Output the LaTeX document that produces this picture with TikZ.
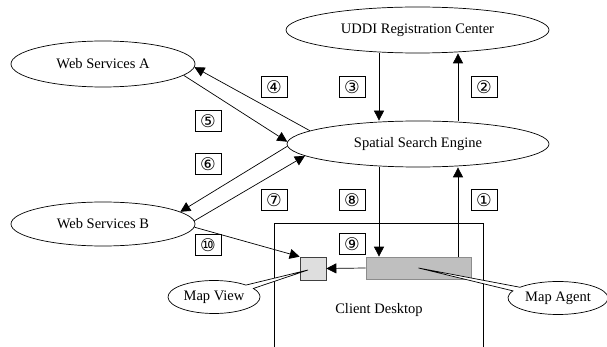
\documentclass[tikz,border=0pt]{standalone}
\usepackage{fontspec}
\setmainfont{Liberation Serif}
\newfontfamily\circfont{DejaVu Sans}
\usetikzlibrary{shapes.geometric,shapes.callouts,arrows.meta,calc}

\begin{document}
\begin{tikzpicture}[x=1pt, y=-1pt, line width=0.7pt,
    font=\fontsize{14.5}{16}\selectfont,
    service/.style={ellipse, draw, inner sep=0pt, minimum width=#1, minimum height=46},
    numbox/.style={draw, rectangle, inner sep=0pt, minimum width=26, minimum height=21,
        font=\circfont\fontsize{17.5}{17.5}\selectfont},
    tag/.style={ellipse callout, draw, fill=white, inner sep=0pt, minimum height=33},
    arr/.style={-{Triangle[length=10pt,width=10pt]}}]
    \useasboundingbox (0,0) rectangle (607,347);

    % vertical lanes between the engine, UDDI and the desktop
    \coordinate (up) at (458,0);
    \coordinate (down) at (379,0);

    \node[service=263] (uddi) at (417.5,30) {UDDI Registration Center};
    \node[service=262] (sse) at (418,144) {Spatial Search Engine};
    \node[service=184] (wsa) at (103,64) {Web Services A\hspace{12pt}};
    \node[service=184, minimum height=44] (wsb) at (103,224) {Web Services B\hspace{12pt}};

    % Client desktop (open at the bottom)
    \draw (274,347) -- (274,223) -- (483,223) -- (483,347);
    \node (desk) at (379,310) {Client Desktop};
    \node[draw=black!45, fill=black!25, minimum width=105, minimum height=22, inner sep=0pt] (agent) at (418.5,268) {};
    \node[draw=black!75, fill=black!13, minimum width=26, minimum height=23, inner sep=0pt] (view) at (313,268.5) {};

    % Messages
    \draw[arr] (agent.north -| up) -- (sse.south -| up);   % 1
    \draw[arr] (sse.north -| up) -- (uddi.south -| up);    % 2
    \draw[arr] (uddi.south -| down) -- (sse.north -| down); % 3
    \draw[arr] (sse.173) -- (wsa.-2);                      % 4
    \draw[arr] (wsa.-8) -- (sse.179);                      % 5
    \draw[arr] (sse.181) -- (wsb.9);                       % 6
    \draw[arr] (wsb.2) -- (sse.186);                       % 7
    \draw[arr] (sse.south -| down) -- (agent.north -| down); % 8
    \draw[arr] (agent.west) -- (view.east);                % 9
    \draw[arr] (wsb.-2) -- (view.north west);              % 10

    \foreach \i/\sym/\x/\y in {1/①/484/200, 2/②/484/87, 3/③/352/87, 4/④/274/87, 5/⑤/208/121,
        6/⑥/208/164, 7/⑦/274/200, 8/⑧/352/200, 9/⑨/352/244, 10/⑩/208/245}
        \node[numbox] (n\i) at (\x,\y) {\sym};

    % Callouts
    \node[tag, minimum width=92, callout absolute pointer={($(view.center)+(-5,1.5)$)}] (viewtag) at (214,297) {Map View};
    \node[tag, minimum width=100, callout absolute pointer={(agent.center)}] (agenttag) at (558,298) {Map Agent};
\end{tikzpicture}
\end{document}
